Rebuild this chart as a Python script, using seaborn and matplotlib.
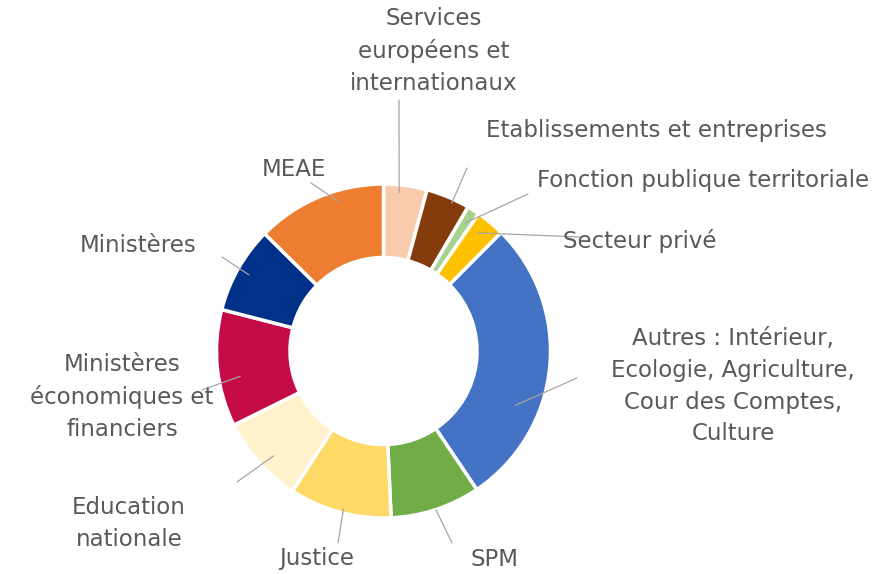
import numpy as np
import matplotlib
matplotlib.use("Agg")
import matplotlib.pyplot as plt
import seaborn as sns

categories = [
    "Services\neuropéens et\ninternationaux",
    "Etablissements et entreprises",
    "Fonction publique territoriale",
    "Secteur privé",
    "Autres : Intérieur,\nEcologie, Agriculture,\nCour des Comptes,\nCulture",
    "SPM",
    "Justice",
    "Education\nnationale",
    "Ministères\néconomiques et\nfinanciers",
    "Ministères",
    "MEAE",
]
values = [4.2, 4.25, 1.2, 2.8, 28.1, 8.7, 9.9, 8.5, 11.3, 8.4, 12.6]
colors = ["#F8CBAD", "#843C0C", "#A9D18E", "#FFC000", "#4472C4", "#70AD47",
          "#FFD966", "#FFF2CC", "#C50B46", "#003189", "#ED7D31"]

sns.set_theme(style="white")
plt.rcParams["font.family"] = ["DejaVu Sans"]

W, H = 892, 574
fig = plt.figure(figsize=(W / 100, H / 100), dpi=100)
cx, cy, R = 383.5, 351.0, 167.0
ax = fig.add_axes([(cx - R) / W, (H - cy - R) / H, 2 * R / W, 2 * R / H])

palette = sns.color_palette(colors)
wedges, _ = ax.pie(values, colors=palette, startangle=90, counterclock=False,
                   radius=1.0,
                   wedgeprops=dict(width=0.44, edgecolor="white", linewidth=2.5))
ax.set_xlim(-1, 1)
ax.set_ylim(-1, 1)
ax.set_aspect("equal")
ax.axis("off")

def px2d(x, y):
    return ((x - cx) / R, (cy - y) / R)

# label centre positions (pixels), leader end points (pixels), anchor radius / angle offset
label_pos = [(434, 51), (656, 130), (703, 181), (640, 241), (733, 386),
             (495, 559), (317, 559), (129, 524), (122, 397), (138, 246), (294, 169)]
leader_end = [(399, 100), (467, 168), (528, 194), (580, 237), (577, 378),
              (452, 543), (338, 543), (237, 482), (202, 390), (222, 257), (311, 183)]
anchor_r = [0.95, 0.975, 0.91, 0.905, 0.853, 1.0, 0.976, 0.91, 0.87, 0.925, 0.94]
anchor_shift = [-1.9, 2.0, 0.0, -1.2, 17.0, 0.0, -1.0, -2.0, -4.0, 0.0, 5.7]

txt_color = "#595959"
for w, lab, lp, le, ar, sh in zip(wedges, categories, label_pos, leader_end,
                                 anchor_r, anchor_shift):
    mid = np.deg2rad((w.theta1 + w.theta2) / 2.0 - sh)
    ax_pt = (ar * np.cos(mid), ar * np.sin(mid))
    end = px2d(*le)
    ax.plot([ax_pt[0], end[0]], [ax_pt[1], end[1]], color="#A6A6A6",
            lw=0.9, clip_on=False, zorder=3)
    tx, ty = px2d(*lp)
    ax.text(tx, ty, lab, ha="center", va="center", fontsize=16.5,
            color=txt_color, linespacing=1.5, clip_on=False, zorder=4)

fig.savefig("out.png", dpi=100, facecolor="white")
